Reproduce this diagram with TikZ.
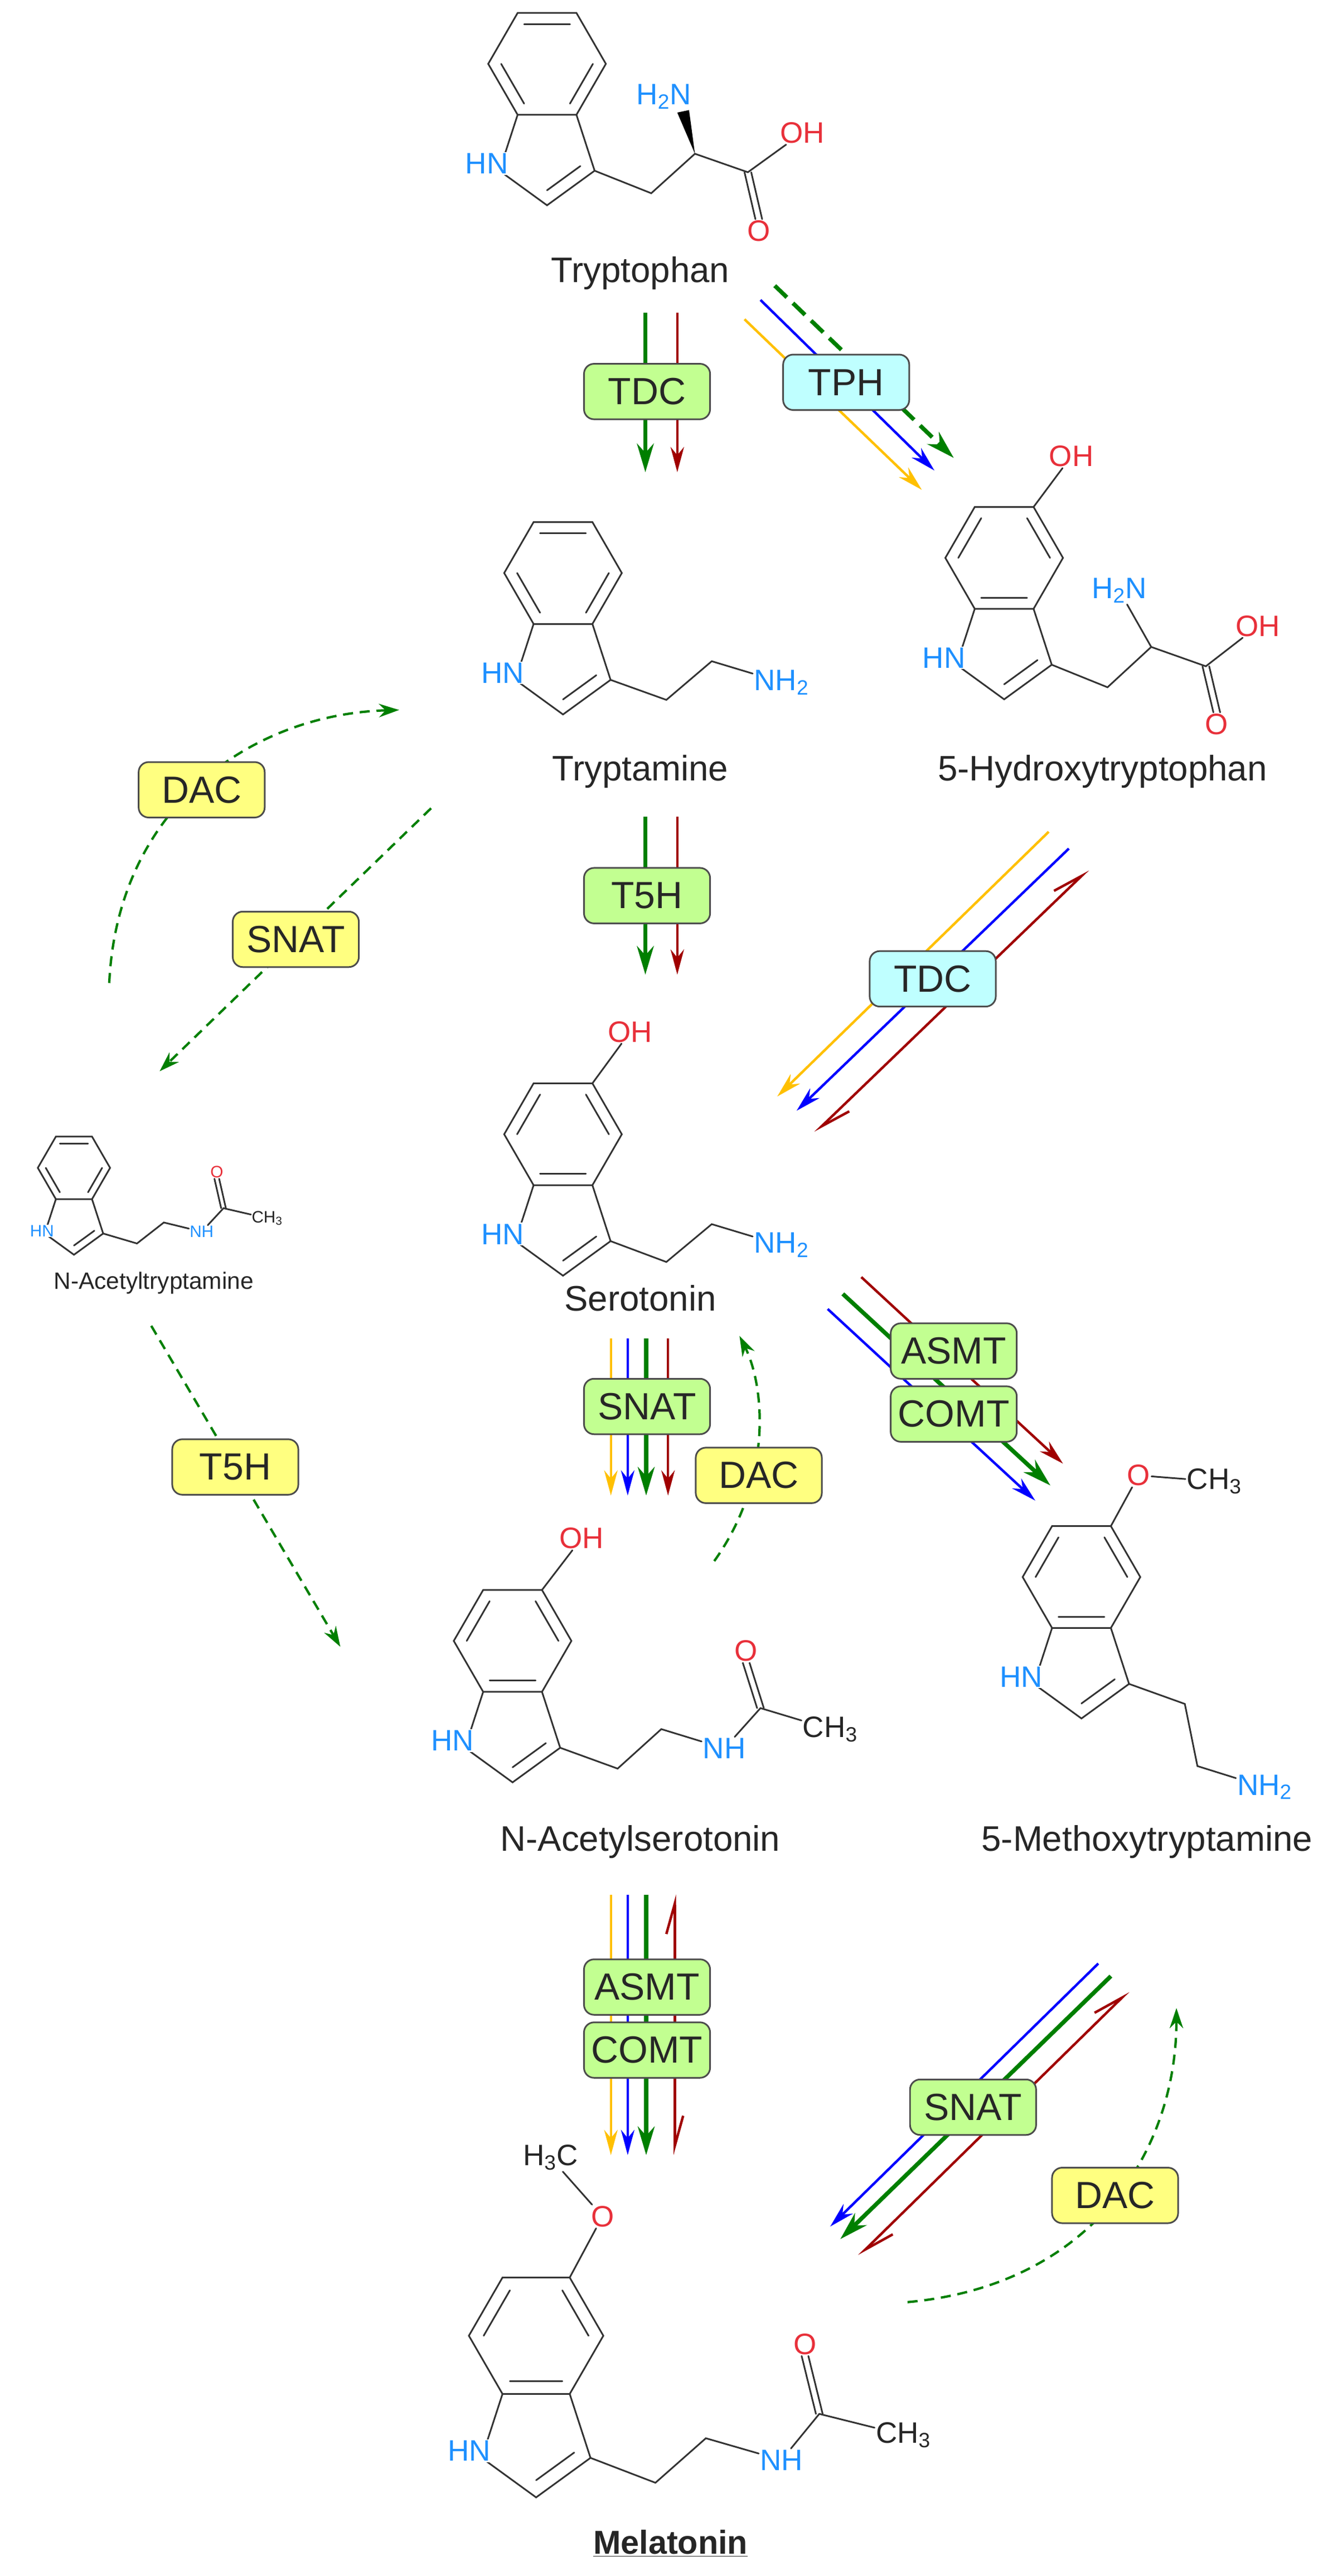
\documentclass[tikz,border=0pt]{standalone}
\usepackage{fontspec}
\setmainfont{Liberation Sans}
\usetikzlibrary{calc,arrows.meta}

\definecolor{atomblue}{HTML}{1E90FF}
\definecolor{atomred}{HTML}{E8303A}
\definecolor{cgreen}{HTML}{007F00}
\definecolor{cred}{HTML}{A00000}
\definecolor{cblue}{HTML}{0000FF}
\definecolor{cyellow}{HTML}{FFC000}
\definecolor{boxgreen}{HTML}{C2FF91}
\definecolor{boxcyan}{HTML}{BFFFFF}
\definecolor{boxyellow}{HTML}{FFFF80}

% indole ring: name, centre x, centre y, bond length, double edges, HN style
\newcommand{\indole}[6]{%
  \coordinate (#1-c) at (#2,#3);
  \coordinate (#1-v0) at ({#2+#4},#3);
  \coordinate (#1-v60) at ({#2+0.5*#4},{#3-0.866*#4});
  \coordinate (#1-v120) at ({#2-0.5*#4},{#3-0.866*#4});
  \coordinate (#1-v180) at ({#2-#4},#3);
  \coordinate (#1-v240) at ({#2-0.5*#4},{#3+0.866*#4});
  \coordinate (#1-v300) at ({#2+0.5*#4},{#3+0.866*#4});
  \coordinate (#1-n) at ({#2-0.809*#4},{#3+1.817*#4});
  \coordinate (#1-c2) at (#2,{#3+2.405*#4});
  \coordinate (#1-c3) at ({#2+0.809*#4},{#3+1.817*#4});
  \coordinate (#1-p) at (#2,{#3+1.554*#4});
  \draw[bond] (#1-v0)--(#1-v60)--(#1-v120)--(#1-v180)--(#1-v240)--(#1-v300)--cycle;
  \draw[bond] (#1-v240)--(#1-n)--(#1-c2)--(#1-c3)--(#1-v300);
  \foreach \i/\j in {#5}
    \draw[bond] ($(#1-c)!0.78!(#1-v\i)$)--($(#1-c)!0.78!(#1-v\j)$);
  \draw[bond] ($(#1-p)!0.7!(#1-c2)$)--($(#1-p)!0.7!(#1-c3)$);
  \node[#6, fill=white, anchor=mid east] (#1-hn) at ([xshift=0.3cm]#1-n) {HN};
}

\begin{document}
\begin{tikzpicture}[x=0.025cm, y=-0.025cm,
    bond/.style={line width=1.4pt, draw=black!80, line cap=round},
    atomB/.style={text=atomblue, font=\fontsize{25}{25}\selectfont, inner sep=1pt},
    atomR/.style={text=atomred, font=\fontsize{25}{25}\selectfont, inner sep=1pt},
    atomK/.style={text=black!85, font=\fontsize{25}{25}\selectfont, inner sep=1pt},
    atomBs/.style={text=atomblue, font=\fontsize{14}{14}\selectfont, inner sep=0.5pt},
    atomRs/.style={text=atomred, font=\fontsize{14}{14}\selectfont, inner sep=0.5pt},
    atomKs/.style={text=black!85, font=\fontsize{14}{14}\selectfont, inner sep=0.5pt},
    molname/.style={text=black!85, font=\fontsize{30}{30}\selectfont},
    enz/.style={draw=black!70, line width=1.4pt, rounded corners=0.3cm, minimum width=3.75cm,
                minimum height=1.65cm, font=\fontsize{32}{32}\selectfont, text=black!85},
    greenbox/.style={enz, fill=boxgreen},
    cyanbox/.style={enz, fill=boxcyan},
    yellowbox/.style={enz, fill=boxyellow},
    arr/.style={line width=2.1pt, -{Stealth[length=0.75cm, width=0.4cm]}},
    thk/.style={line width=3.5pt, -{Stealth[length=0.85cm, width=0.5cm]}},
    rev/.style={line width=2.1pt, {Straight Barb[left, length=0.9cm, width=0.5cm]}-{Straight Barb[left, length=0.9cm, width=0.5cm]}},
    dsh/.style={cgreen, line width=2pt, dash pattern=on 0.3cm off 0.2cm, -{Stealth[length=0.6cm, width=0.4cm]}}
  ]
  \useasboundingbox (0,0) rectangle (1568,3066);

  % ---------- Tryptophan
  \indole{trp}{651}{76}{70}{60/120,180/240,300/0}{atomB}
  \node[atomB] (trp-h2n) at (790,115) {H\textsubscript{2}N};
  \node[atomR] (trp-oh) at (955,158) {OH};
  \node[atomR] (trp-o) at (903,275) {O};
  \coordinate (trp-ch2) at (775,230);
  \coordinate (trp-ca) at (827,183);
  \coordinate (trp-co) at (890,205);
  \draw[bond] (trp-c3) -- (trp-ch2) -- (trp-ca) -- (trp-co) -- (trp-oh);
  \draw[bond] ([xshift=-0.1cm]trp-co) -- ([xshift=-0.1cm]trp-o.north);
  \draw[bond] ([xshift=0.1cm]trp-co) -- ([xshift=0.1cm]trp-o.north);
  \fill[black] (trp-ca) -- (806,134) -- (820,131) -- cycle;
  \node[molname] (trp) at (762,325) {Tryptophan};

  % ---------- Tryptamine
  \indole{tra}{670}{682}{70}{60/120,180/240,300/0}{atomB}
  \node[atomB] (tra-nh2) at (930,812) {NH\textsubscript{2}};
  \draw[bond] (tra-c3) -- (793,833) -- (847,787) -- (tra-nh2);
  \node[molname] (tra) at (762,918) {Tryptamine};

  % ---------- 5-Hydroxytryptophan
  \indole{htp}{1195}{664}{70}{0/60,120/180,240/300}{atomB}
  \node[atomR] (htp-oh5) at (1275,543) {OH};
  \node[atomB] (htp-h2n) at (1332,703) {H\textsubscript{2}N};
  \node[atomR] (htp-oh) at (1497,745) {OH};
  \node[atomR] (htp-o) at (1448,862) {O};
  \coordinate (htp-ca) at (1370,770);
  \coordinate (htp-co) at (1435,793);
  \draw[bond] (htp-v60) -- (htp-oh5);
  \draw[bond] (htp-c3) -- (1318,818) -- (htp-ca) -- (htp-co) -- (htp-oh);
  \draw[bond] (htp-ca) -- (htp-h2n);
  \draw[bond] ([xshift=-0.1cm]htp-co) -- ([xshift=-0.1cm]htp-o.north);
  \draw[bond] ([xshift=0.1cm]htp-co) -- ([xshift=0.1cm]htp-o.north);
  \node[molname] (htp) at (1312,918) {5-Hydroxytryptophan};

  % ---------- Serotonin
  \indole{ser}{670}{1350}{70}{0/60,120/180,240/300}{atomB}
  \node[atomR] (ser-oh) at (750,1228) {OH};
  \node[atomB] (ser-nh2) at (930,1482) {NH\textsubscript{2}};
  \draw[bond] (ser-v60) -- (ser-oh);
  \draw[bond] (ser-c3) -- (793,1502) -- (847,1457) -- (ser-nh2);
  \node[molname] (ser) at (762,1545) {Serotonin};

  % ---------- N-Acetyltryptamine
  \indole{nat}{88}{1390}{43}{60/120,180/240,300/0}{atomBs}
  \node[atomBs] (nat-nh) at (240,1466) {NH};
  \node[atomRs] (nat-o) at (258,1395) {O};
  \node[atomKs] (nat-ch3) at (318,1450) {CH\textsubscript{3}};
  \coordinate (nat-co) at (266,1438);
  \draw[bond] (nat-c3) -- (163,1480) -- (195,1455) -- (nat-nh) -- (nat-co) -- (nat-ch3);
  \draw[bond] ([xshift=-0.07cm]nat-co) -- ([xshift=-0.07cm]nat-o.south);
  \draw[bond] ([xshift=0.07cm]nat-co) -- ([xshift=0.07cm]nat-o.south);
  \node[molname, font=\fontsize{20}{20}\selectfont] (nat) at (183,1527) {N-Acetyltryptamine};

  % ---------- N-Acetylserotonin
  \indole{nas}{610}{1953}{70}{0/60,120/180,240/300}{atomB}
  \node[atomR] (nas-oh) at (692,1831) {OH};
  \node[atomB] (nas-nh) at (862,2081) {NH};
  \node[atomR] (nas-o) at (888,1965) {O};
  \node[atomK] (nas-ch3) at (988,2058) {CH\textsubscript{3}};
  \coordinate (nas-co) at (905,2033);
  \draw[bond] (nas-v60) -- (nas-oh);
  \draw[bond] (nas-c3) -- (735,2105) -- (787,2058) -- (nas-nh) -- (nas-co) -- (nas-ch3);
  \draw[bond] ([xshift=-0.1cm]nas-co) -- ([xshift=-0.1cm]nas-o.south);
  \draw[bond] ([xshift=0.1cm]nas-co) -- ([xshift=0.1cm]nas-o.south);
  \node[molname] (nas) at (762,2192) {N-Acetylserotonin};

  % ---------- 5-Methoxytryptamine
  \indole{mtr}{1287}{1877}{70}{0/60,120/180,240/300}{atomB}
  \node[atomR] (mtr-o) at (1355,1756) {O};
  \node[atomK] (mtr-ch3) at (1445,1763) {CH\textsubscript{3}};
  \node[atomB] (mtr-nh2) at (1505,2127) {NH\textsubscript{2}};
  \draw[bond] (mtr-v60) -- (mtr-o) -- (mtr-ch3);
  \draw[bond] (mtr-c3) -- (1410,2028) -- (1425,2102) -- (mtr-nh2);
  \node[molname] (mtr) at (1365,2192) {5-Methoxytryptamine};

  % ---------- Melatonin
  \indole{mel}{638}{2780}{80}{0/60,120/180,240/300}{atomB}
  \node[atomR] (mel-o5) at (717,2638) {O};
  \node[atomK] (mel-h3c) at (655,2568) {H\textsubscript{3}C};
  \node[atomB] (mel-nh) at (930,2928) {NH};
  \node[atomR] (mel-o) at (958,2790) {O};
  \node[atomK] (mel-ch3) at (1075,2898) {CH\textsubscript{3}};
  \coordinate (mel-co) at (975,2873);
  \draw[bond] (mel-v60) -- (mel-o5) -- (mel-h3c);
  \draw[bond] (mel-c3) -- (780,2955) -- (840,2902) -- (mel-nh) -- (mel-co) -- (mel-ch3);
  \draw[bond] ([xshift=-0.1cm]mel-co) -- ([xshift=-0.1cm]mel-o.south);
  \draw[bond] ([xshift=0.1cm]mel-co) -- ([xshift=0.1cm]mel-o.south);
  \node[molname, font=\fontsize{28}{28}\selectfont\bfseries, anchor=base] (mel) at (798,3040) {\underline{Melatonin}};

  % ---------- reactions
  \draw[arr, thk, cgreen] (768,372) -- (768,562);
  \draw[arr, cred] (806,372) -- (806,562);
  \node[greenbox] (tdc1) at (770,466) {TDC};

  \draw[arr, cyellow] (886,380) -- (1097,583);
  \draw[arr, cblue] (905,357) -- (1112,560);
  \draw[dsh, line width=3.5pt, dash pattern=on 0.5cm off 0.25cm, -{Stealth[length=0.85cm, width=0.5cm]}] (922,340) -- (1135,545);
  \node[cyanbox] (tph) at (1007,455) {TPH};

  \draw[arr, thk, cgreen] (768,972) -- (768,1160);
  \draw[arr, cred] (806,972) -- (806,1160);
  \node[greenbox] (t5h1) at (770,1066) {T5H};

  \draw[arr, cyellow] (1248,990) -- (925,1305);
  \draw[arr, cblue] (1272,1010) -- (948,1322);
  \draw[rev, cred] (970,1348) -- (1295,1035);
  \node[cyanbox] (tdc2) at (1110,1165) {TDC};

  \draw[dsh] (130,1170) .. controls (140,960) and (300,850) .. (475,845);
  \node[yellowbox] (dac1) at (240,940) {DAC};
  \draw[dsh] (513,962) -- (190,1275);
  \node[yellowbox] (snat1) at (352,1118) {SNAT};
  \draw[dsh] (180,1578) -- (405,1960);
  \node[yellowbox] (t5h2) at (280,1746) {T5H};

  \foreach \xx/\col in {727/cyellow, 747/cblue, 795/cred}
    \draw[arr, \col] (\xx,1593) -- (\xx,1780);
  \draw[arr, thk, cgreen] (769,1593) -- (769,1780);
  \node[greenbox] (snat2) at (770,1674) {SNAT};
  \draw[dsh] (850,1858) .. controls (920,1760) and (910,1650) .. (880,1590);
  \node[yellowbox] (dac2) at (903,1756) {DAC};

  \draw[arr, cred] (1025,1520) -- (1265,1742);
  \draw[arr, thk, cgreen] (1003,1540) -- (1250,1768);
  \draw[arr, cblue] (985,1558) -- (1232,1786);
  \node[greenbox] (asmt1) at (1135,1608) {ASMT};
  \node[greenbox] (comt1) at (1135,1683) {COMT};

  \foreach \xx/\col in {727/cyellow, 747/cblue}
    \draw[arr, \col] (\xx,2255) -- (\xx,2565);
  \draw[arr, thk, cgreen] (769,2255) -- (769,2565);
  \draw[rev, cred] (803,2565) -- (803,2255);
  \node[greenbox] (asmt2) at (770,2365) {ASMT};
  \node[greenbox] (comt2) at (770,2440) {COMT};

  \draw[arr, cblue] (1307,2337) -- (988,2650);
  \draw[arr, thk, cgreen] (1322,2352) -- (1000,2665);
  \draw[rev, cred] (1022,2685) -- (1343,2370);
  \node[greenbox] (snat3) at (1158,2508) {SNAT};
  \draw[dsh] (1080,2740) .. controls (1300,2720) and (1400,2560) .. (1400,2390);
  \node[yellowbox] (dac3) at (1327,2613) {DAC};
\end{tikzpicture}
\end{document}
